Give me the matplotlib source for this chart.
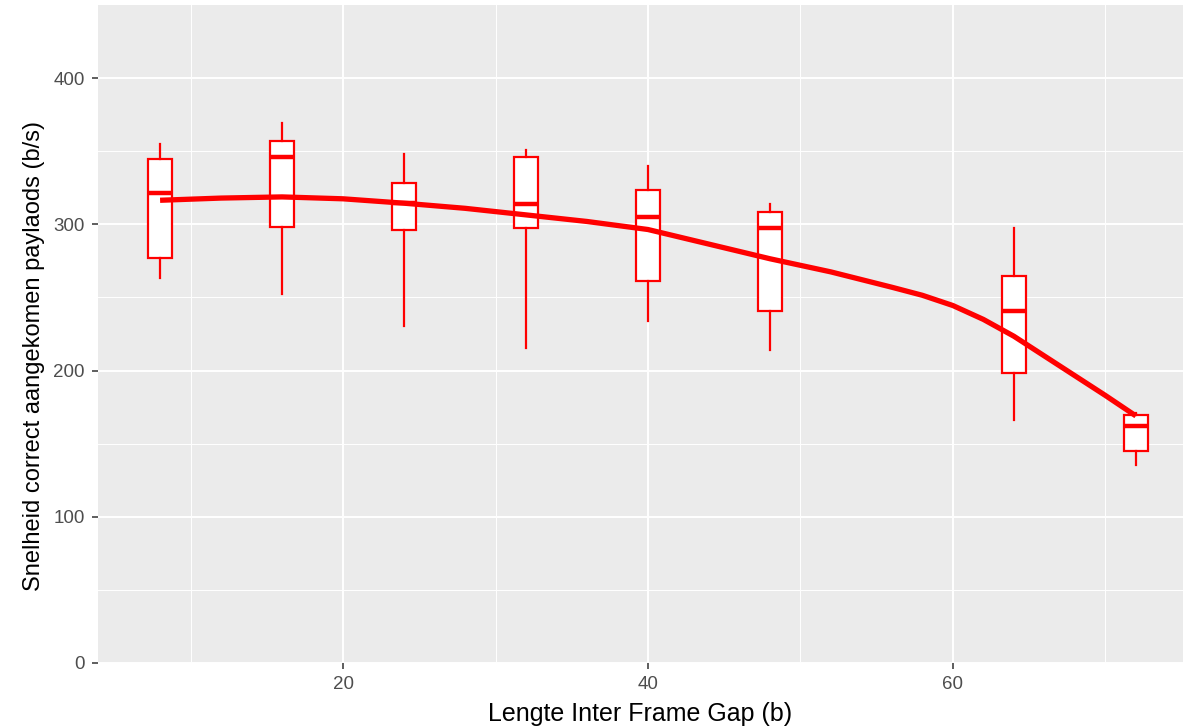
import matplotlib

matplotlib.use("Agg")
import matplotlib.pyplot as plt  # noqa: E402

# Box statistics per inter frame gap length
gap_lengths = [8, 16, 24, 32, 40, 48, 64, 72]
whisker_low = [263.5, 252.5, 230.3, 215.2, 234.2, 214.3, 166.2, 135.2]
box_q1 = [277.2, 298.2, 295.9, 297.5, 261.2, 241.1, 198.3, 145.1]
box_median = [321.8, 345.8, 314.9, 314.2, 305.1, 297.5, 241.1, 162.2]
box_q3 = [344.4, 357.2, 328.0, 345.8, 323.4, 308.5, 264.6, 169.7]
whisker_high = [354.7, 369.1, 347.9, 350.8, 339.8, 313.8, 297.8, 171.3]

# Smoothed trend line (loess)
smooth_x = [8, 12, 16, 20, 24, 28, 32, 36, 40, 44, 48, 52, 56, 58, 60, 62,
            64, 66, 68, 70, 72]
smooth_y = [316.5, 318.0, 318.8, 317.5, 314.5, 311.0, 306.5, 302.0, 296.5,
            286.5, 276.5, 267.5, 257.0, 251.5, 244.5, 235.0, 223.5, 210.0,
            196.5, 183.0, 169.0]

RED = "#FF0000"
PANEL_BG = "#EBEBEB"

plt.rcParams["font.family"] = ["Liberation Sans", "DejaVu Sans"]

fig = plt.figure(figsize=(11.84, 7.28), dpi=100)
ax = fig.add_axes([0.0828, 0.0893, 0.9162, 0.9037])
ax.set_facecolor(PANEL_BG)

stats = []
for i, x in enumerate(gap_lengths):
    stats.append({
        "whislo": whisker_low[i],
        "q1": box_q1[i],
        "med": box_median[i],
        "q3": box_q3[i],
        "whishi": whisker_high[i],
        "fliers": [],
        "label": str(x),
    })

ax.bxp(
    stats,
    positions=gap_lengths,
    widths=1.55,
    patch_artist=True,
    showcaps=False,
    boxprops=dict(facecolor="white", edgecolor=RED, linewidth=1.6),
    whiskerprops=dict(color=RED, linewidth=1.6),
    medianprops=dict(color=RED, linewidth=3.2, solid_capstyle="butt"),
    manage_ticks=False,
    zorder=3,
)

ax.plot(smooth_x, smooth_y, color=RED, linewidth=3.8, zorder=4,
        solid_capstyle="butt", solid_joinstyle="round")

ax.set_xlim(3.93, 75.08)
ax.set_ylim(0, 450)

ax.set_xticks([20, 40, 60])
ax.set_xticks([10, 30, 50, 70], minor=True)
ax.set_yticks([0, 100, 200, 300, 400])
ax.set_yticks([50, 150, 250, 350], minor=True)

ax.grid(which="major", color="white", linewidth=1.4, zorder=0)
ax.grid(which="minor", color="white", linewidth=0.7, zorder=0)
ax.set_axisbelow(True)

for side in ax.spines.values():
    side.set_visible(False)

ax.tick_params(which="major", length=4.5, width=1.1, color="#333333",
               labelcolor="#4D4D4D", labelsize=13.5, pad=5)
ax.tick_params(which="minor", length=0)

ax.set_xlabel("Lengte Inter Frame Gap (b)", fontsize=18, color="black", labelpad=6)
ax.set_ylabel("Snelheid correct aangekomen paylaods (b/s)", fontsize=17,
              color="black")
ax.yaxis.set_label_coords(-0.049, 0.466)

fig.savefig("out.png", dpi=100)
